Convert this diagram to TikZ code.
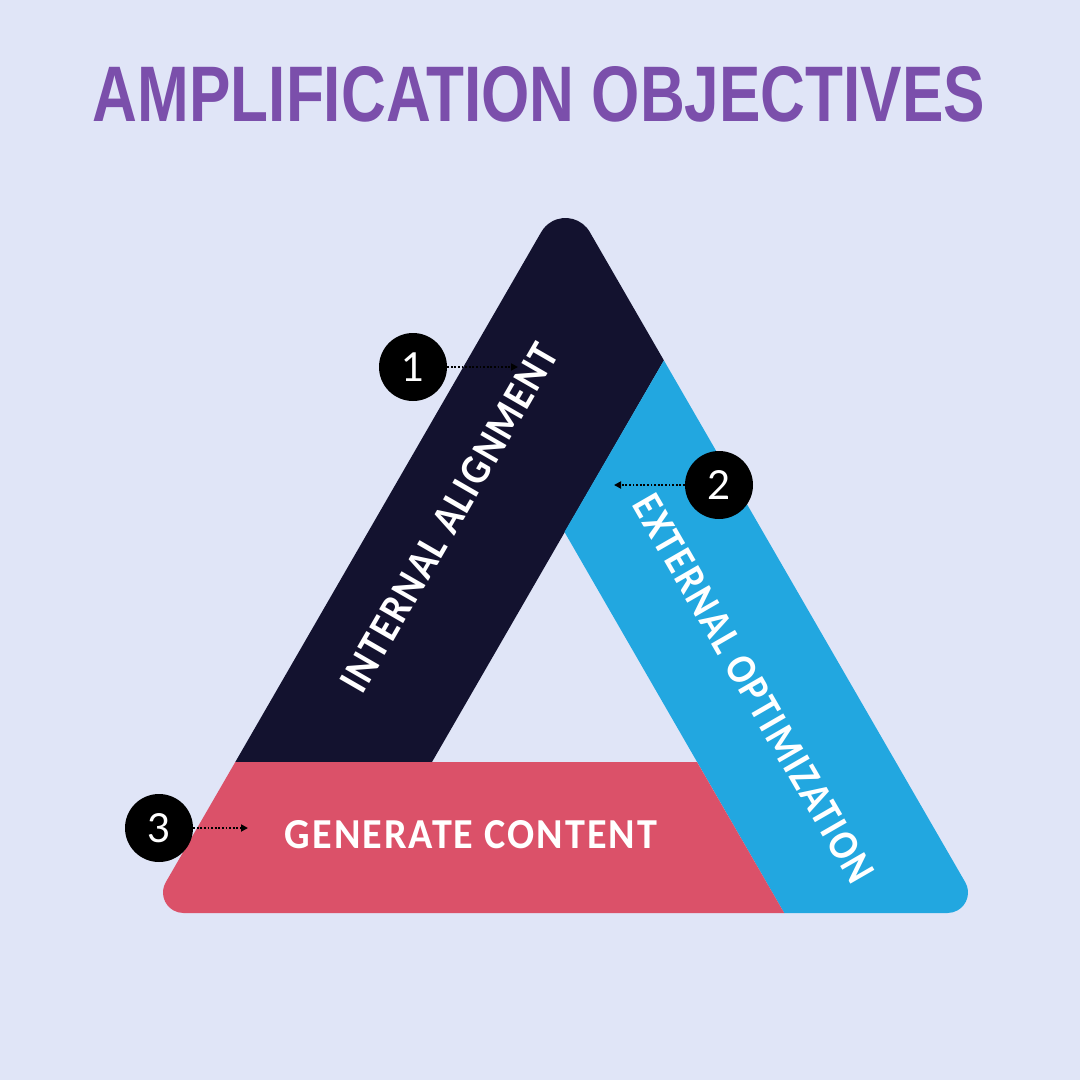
\documentclass[tikz,border=0pt]{standalone}
\usepackage{fontspec}
\usepackage{graphicx}
\usetikzlibrary{arrows.meta}
\setmainfont{Fira Sans}
\newfontfamily\titlefont{Liberation Sans}
\newfontfamily\labelfont{Carlito}[LetterSpace=5]
\newfontfamily\numfont{Lato}
\definecolor{bg}{HTML}{E0E5F7}
\definecolor{navy}{HTML}{13122F}
\definecolor{sky}{HTML}{22A7E0}
\definecolor{rose}{HTML}{DB5169}
\definecolor{violet}{HTML}{7B4FAB}
\begin{document}
\begin{tikzpicture}[x=1pt,y=-1pt,
  band label/.style={text=white, inner sep=0pt, font=\labelfont\bfseries},
  badge/.style={circle, fill=black, minimum size=68pt, inner sep=0pt, text=white,
                font=\numfont\fontsize{40}{40}\selectfont},
  pointer/.style={line width=1.8pt, dash pattern=on 1.8pt off 1.8pt,
                  -{Triangle[length=7pt,width=7pt]}}]
% canvas
\fill[bg] (0,0) rectangle (1080,1080);
\useasboundingbox (0,0) rectangle (1080,1080);

% title
\node[text=violet, inner sep=0pt, font=\titlefont\bfseries] (title) at (539,94.5)
  {\resizebox{892pt}{55pt}{AMPLIFICATION OBJECTIVES}};

% key points of the triangle
\coordinate (A1) at (235.3,762);   % left band / bottom band, outer edge
\coordinate (IL) at (432,762);     % hole, bottom left
\coordinate (IR) at (697,762);     % hole, bottom right
\coordinate (IT) at (564.5,532);   % hole, top
\coordinate (B1) at (663.9,360.4); % left band / right band, outer edge
\coordinate (P1) at (784.2,913);   % bottom band / right band, base

% left band (rounded apex)
\fill[navy] (A1) -- (IL) -- (B1) -- (589.75,232)
  arc[start angle=330, end angle=210, radius=28] -- cycle;

% right band (rounded bottom-right corner)
\fill[sky] (B1) -- (965.25,882.25)
  arc[start angle=-30, end angle=90, radius=20.5] -- (P1) -- (IT) -- cycle;

% bottom band (rounded bottom-left corner)
\fill[rose] (A1) -- (165.75,882.25)
  arc[start angle=210, end angle=90, radius=20.5] -- (P1) -- (IR) -- cycle;

% band labels
\node[band label, rotate=60] (lab1) at (449,518)
  {\resizebox{395pt}{28pt}{INTERNAL ALIGNMENT}};
\node[band label, rotate=-60] (lab2) at (753.5,688.5)
  {\resizebox{441pt}{28pt}{EXTERNAL OPTIMIZATION}};
\node[band label] (lab3) at (471,835)
  {\resizebox{372pt}{28pt}{GENERATE CONTENT}};

% numbered badges with pointers
\node[badge] (n1) at (413,367) {1};
\node[badge] (n2) at (719,485) {2};
\node[badge] (n3) at (159,828) {3};
\coordinate (p1) at (518,367);
\coordinate (p2) at (614,485);
\coordinate (p3) at (248,828);
\draw[pointer] (n1.east) -- (p1);
\draw[pointer] (n2.west) -- (p2);
\draw[pointer] (n3.east) -- (p3);
\end{tikzpicture}
\end{document}
